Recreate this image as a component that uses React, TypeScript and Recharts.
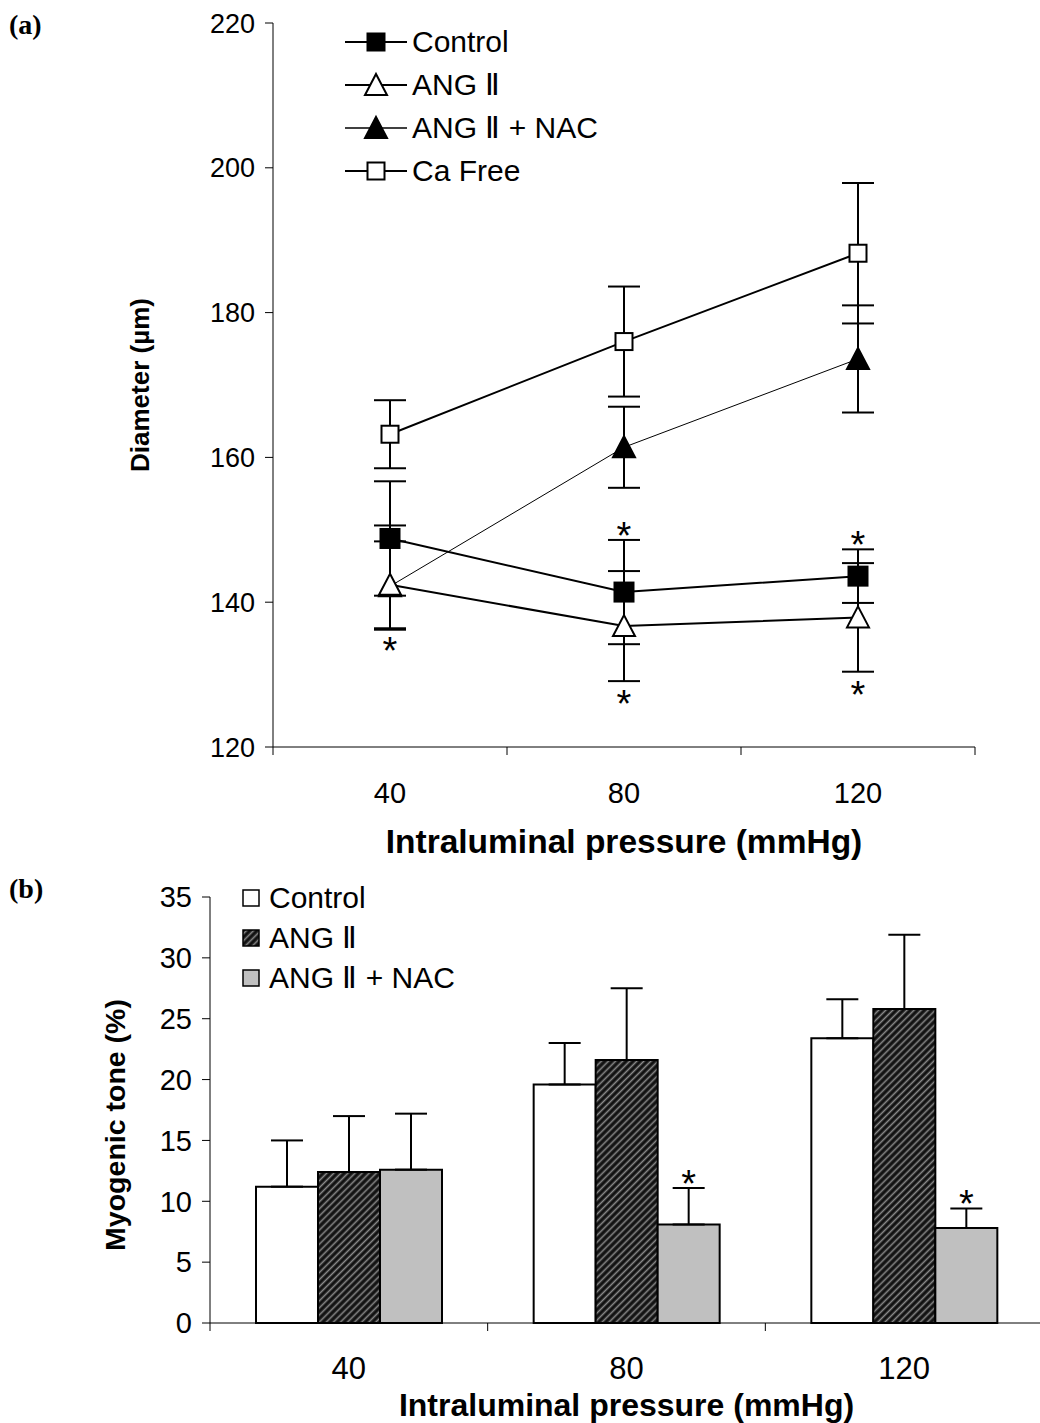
import React from 'react';
import { LineChart, Line, BarChart, Bar, XAxis, YAxis, ErrorBar, Legend, Label, LabelList } from 'recharts';

const FONT = '"Liberation Sans", Arial, Helvetica, sans-serif';

const pressures = ['40', '80', '120'];

// (a) vessel diameter, µm (mean, SEM)
const control = [148.8, 141.4, 143.6];
const controlErr = [7.9, 7.2, 3.7];
const angII = [142.4, 136.7, 137.9];
const angIIErr = [6.0, 7.6, 7.5];
const angIINac = [142.2, 161.4, 173.6];
const angIINacErr: (number | number[])[] = [[6.0, 8.4], 5.6, 7.4];
const caFree = [163.2, 176.0, 188.2];
const caFreeErr = [4.7, 7.6, 9.7];
const controlSig = [false, true, true];
const angIISig = [true, true, true];
const diameterTicks = [120, 140, 160, 180, 200, 220];

// (b) myogenic tone, % (mean, SEM)
const toneControl = [11.2, 19.6, 23.4];
const toneControlErr = [3.8, 3.4, 3.2];
const toneAngII = [12.4, 21.6, 25.8];
const toneAngIIErr = [4.6, 5.9, 6.1];
const toneNac = [12.6, 8.1, 7.8];
const toneNacErr = [4.6, 3.0, 1.6];
const toneNacSig = [false, true, true];
const toneTicks = [0, 5, 10, 15, 20, 25, 30, 35];

const diameterData = pressures.map((p, i) => ({
  p,
  control: control[i],
  controlErr: controlErr[i],
  angII: angII[i],
  angIIErr: angIIErr[i],
  angIINac: angIINac[i],
  angIINacErr: angIINacErr[i],
  caFree: caFree[i],
  caFreeErr: caFreeErr[i],
  controlStar: controlSig[i] ? control[i] + controlErr[i] : null,
  angIIStar: angIISig[i] ? angII[i] - angIIErr[i] : null,
}));

const toneData = pressures.map((p, i) => ({
  p,
  control: toneControl[i],
  controlErr: [0, toneControlErr[i]],
  angII: toneAngII[i],
  angIIErr: [0, toneAngIIErr[i]],
  nac: toneNac[i],
  nacErr: [0, toneNacErr[i]],
}));

// chart frames
const A_W = 1040;
const A_H = 860;
const A_LEFT = 273;
const A_RIGHT = 65;
const B_W = 1045;
const B_H = 563;
const B_LEFT = 210;
const B_RIGHT = 2;

const STAR_SIZE = 38;

// Excel-style axis: labels centred in the category, tick marks on the boundaries
function BoundaryTick(props: any) {
  const { x, y, payload, index, band, labelDy, fontSize } = props;
  return (
    <g>
      {index === 0 && <line x1={x - band / 2} x2={x - band / 2} y1={y} y2={y + 8} stroke="#000" />}
      <line x1={x + band / 2} x2={x + band / 2} y1={y} y2={y + 8} stroke="#000" />
      <text x={x} y={y + labelDy} textAnchor="middle" fontSize={fontSize} fill="#000" fontFamily={FONT}>
        {payload.value}
      </text>
    </g>
  );
}

const squareDot = (fill: string, s: number) => (props: any) => {
  const { cx, cy, index } = props;
  return (
    <rect key={`sq-${fill}-${index}`} x={cx - s / 2} y={cy - s / 2} width={s} height={s}
      fill={fill} stroke="#000" strokeWidth={2} />
  );
};

const triangleDot = (fill: string) => (props: any) => {
  const { cx, cy, index } = props;
  return (
    <polygon key={`tr-${fill}-${index}`}
      points={`${cx},${cy - 11} ${cx + 11},${cy + 10} ${cx - 11},${cy + 10}`}
      fill={fill} stroke="#000" strokeWidth={2} strokeLinejoin="miter" />
  );
};

// asterisk glyph centred on (x, cy)
const Star = ({ x, cy }: { x: number; cy: number }) => (
  <text x={x} y={cy + STAR_SIZE * 0.47} textAnchor="middle" fontSize={STAR_SIZE} fill="#000" fontFamily={FONT}>*</text>
);

const starDot = (shift: number) => (props: any) => {
  const { cx, cy, index, value } = props;
  if (value == null || cy == null) return <g key={`st-${shift}-${index}`} />;
  return <g key={`st-${shift}-${index}`}><Star x={cx} cy={cy + shift} /></g>;
};

function ToneStar(props: any) {
  const { x, y, width, height, value, index } = props;
  if (!toneNacSig[index]) return null;
  const capY = y - toneNacErr[index] * (height / value);
  return <Star x={x + width / 2} cy={capY - 9} />;
}

const legendRowsA = [
  { name: 'Control', marker: 'sq', fill: '#000', w: 2 },
  { name: 'ANG Ⅱ', marker: 'tr', fill: '#fff', w: 2 },
  { name: 'ANG Ⅱ + NAC', marker: 'tr', fill: '#000', w: 1.3 },
  { name: 'Ca Free', marker: 'sq', fill: '#fff', w: 2 },
];

function DiameterLegend() {
  return (
    <svg width={300} height={175} style={{ display: 'block' }}>
      {legendRowsA.map((r, i) => {
        const cy = 22 + i * 43;
        return (
          <g key={r.name}>
            <line x1={5} x2={67} y1={cy} y2={cy} stroke="#000" strokeWidth={r.w} />
            {r.marker === 'sq' ? (
              <rect x={36 - 8.5} y={cy - 8.5} width={17} height={17} fill={r.fill} stroke="#000" strokeWidth={2} />
            ) : (
              <polygon points={`36,${cy - 11} 47,${cy + 10} 25,${cy + 10}`} fill={r.fill} stroke="#000" strokeWidth={2} />
            )}
            <text x={72} y={cy + 10} fontSize={30} fill="#000" fontFamily={FONT}>{r.name}</text>
          </g>
        );
      })}
    </svg>
  );
}

const legendRowsB = [
  { name: 'Control', fill: '#fff' },
  { name: 'ANG Ⅱ', fill: 'url(#hatch)' },
  { name: 'ANG Ⅱ + NAC', fill: '#c0c0c0' },
];

function ToneLegend() {
  return (
    <svg width={260} height={125} style={{ display: 'block' }}>
      {legendRowsB.map((r, i) => {
        const cy = 20 + i * 40;
        return (
          <g key={r.name}>
            <rect x={4} y={cy - 8} width={16} height={16} fill={r.fill} stroke="#000" strokeWidth={1.5} />
            <text x={30} y={cy + 10} fontSize={30} fill="#000" fontFamily={FONT}>{r.name}</text>
          </g>
        );
      })}
    </svg>
  );
}

const yTitle = (text: string, cx: number, size: number, shift = 0) => (props: any) => {
  const vb = props.viewBox;
  const cy = vb.y + vb.height / 2 + shift;
  return (
    <text x={cx} y={cy} transform={`rotate(-90 ${cx} ${cy})`} textAnchor="middle" dy="0.35em"
      fontSize={size} fontWeight="bold" fill="#000" fontFamily={FONT}>{text}</text>
  );
};

const xTitle = (text: string, dy: number, size: number) => (props: any) => {
  const vb = props.viewBox;
  return (
    <text x={vb.x + vb.width / 2} y={vb.y + dy} textAnchor="middle"
      fontSize={size} fontWeight="bold" fill="#000" fontFamily={FONT}>{text}</text>
  );
};

export default function App() {
  const bandA = (A_W - A_LEFT - A_RIGHT) / pressures.length;
  const bandB = (B_W - B_LEFT - B_RIGHT) / pressures.length;
  const panelLabel: React.CSSProperties = {
    position: 'absolute', left: 9, fontFamily: '"Liberation Serif", "Times New Roman", serif',
    fontWeight: 'bold', fontSize: 28, lineHeight: '28px',
  };

  return (
    <div style={{ position: 'absolute', left: 0, top: 0, width: 1040, height: 1423, overflow: 'hidden', background: '#fff', fontFamily: FONT }}>
      <div style={{ ...panelLabel, top: 11 }}>(a)</div>
      <div style={{ ...panelLabel, top: 875 }}>(b)</div>

      <div style={{ position: 'absolute', left: 0, top: 0 }}>
        <LineChart width={A_W} height={A_H} data={diameterData}
          margin={{ top: 23, right: A_RIGHT, left: 0, bottom: 13 }}>
          <XAxis dataKey="p" height={100} stroke="#000" tickLine={false} tickSize={0} tickMargin={0}
            interval={0} padding={{ left: bandA / 2, right: bandA / 2 }}
            tick={<BoundaryTick band={bandA} labelDy={56} fontSize={29} />}>
            <Label content={xTitle('Intraluminal pressure (mmHg)', 106, 33.5)} />
          </XAxis>
          <YAxis width={A_LEFT} domain={[120, 220]} ticks={diameterTicks} interval={0} stroke="#000"
            tickSize={8} tickMargin={10} tick={{ fill: '#000', fontSize: 27 }}>
            <Label content={yTitle('Diameter (µm)', 140, 26)} />
          </YAxis>
          <Legend layout="horizontal" verticalAlign="middle" align="center" content={<DiameterLegend />}
            wrapperStyle={{ left: 340, top: 20, width: 300 }} />

          <Line dataKey="caFree" stroke="#000" strokeWidth={2} isAnimationActive={false}
            dot={squareDot('#fff', 17)} activeDot={false}>
            <ErrorBar dataKey="caFreeErr" width={16} strokeWidth={2} stroke="#000" isAnimationActive={false} />
          </Line>
          <Line dataKey="angIINac" stroke="#000" strokeWidth={1} isAnimationActive={false}
            dot={triangleDot('#000')} activeDot={false}>
            <ErrorBar dataKey="angIINacErr" width={16} strokeWidth={2} stroke="#000" isAnimationActive={false} />
          </Line>
          <Line dataKey="angII" stroke="#000" strokeWidth={2} isAnimationActive={false}
            dot={triangleDot('#fff')} activeDot={false}>
            <ErrorBar dataKey="angIIErr" width={16} strokeWidth={2} stroke="#000" isAnimationActive={false} />
          </Line>
          <Line dataKey="control" stroke="#000" strokeWidth={2} isAnimationActive={false}
            dot={squareDot('#000', 19)} activeDot={false}>
            <ErrorBar dataKey="controlErr" width={16} strokeWidth={2} stroke="#000" isAnimationActive={false} />
          </Line>
          <Line dataKey="controlStar" stroke="none" isAnimationActive={false} dot={starDot(-9)}
            activeDot={false} legendType="none" />
          <Line dataKey="angIIStar" stroke="none" isAnimationActive={false} dot={starDot(18)}
            activeDot={false} legendType="none" />
        </LineChart>
      </div>

      <div style={{ position: 'absolute', left: 0, top: 860 }}>
        <BarChart width={B_W} height={B_H} data={toneData} barCategoryGap={46} barGap={0}
          margin={{ top: 37, right: B_RIGHT, left: 0, bottom: 0 }}>
          <defs>
            <pattern id="hatch" width={5} height={5} patternUnits="userSpaceOnUse" patternTransform="rotate(45)">
              <rect width={5} height={5} fill="#111" />
              <line x1={2.5} y1={0} x2={2.5} y2={5} stroke="#8a8a8a" strokeWidth={1.6} />
            </pattern>
          </defs>
          <XAxis dataKey="p" height={100} stroke="#000" tickLine={false} tickSize={0} tickMargin={0}
            interval={0} tick={<BoundaryTick band={bandB} labelDy={56} fontSize={31} />}>
            <Label content={xTitle('Intraluminal pressure (mmHg)', 93, 32)} />
          </XAxis>
          <YAxis width={B_LEFT} domain={[0, 35]} ticks={toneTicks} interval={0} stroke="#000"
            tickSize={8} tickMargin={10} tick={{ fill: '#000', fontSize: 29 }}>
            <Label content={yTitle('Myogenic tone (%)', 115, 28.5, 15)} />
          </YAxis>
          <Legend layout="horizontal" verticalAlign="middle" align="center" content={<ToneLegend />}
            wrapperStyle={{ left: 239, top: 18, width: 260 }} />

          <Bar dataKey="control" fill="#fff" stroke="#000" strokeWidth={2} isAnimationActive={false}>
            <ErrorBar dataKey="controlErr" width={16} strokeWidth={2} stroke="#000" isAnimationActive={false} />
          </Bar>
          <Bar dataKey="angII" fill="url(#hatch)" stroke="#000" strokeWidth={2} isAnimationActive={false}>
            <ErrorBar dataKey="angIIErr" width={16} strokeWidth={2} stroke="#000" isAnimationActive={false} />
          </Bar>
          <Bar dataKey="nac" fill="#c0c0c0" stroke="#000" strokeWidth={2} isAnimationActive={false}>
            <ErrorBar dataKey="nacErr" width={16} strokeWidth={2} stroke="#000" isAnimationActive={false} />
            <LabelList dataKey="nac" content={<ToneStar />} />
          </Bar>
        </BarChart>
      </div>
    </div>
  );
}
